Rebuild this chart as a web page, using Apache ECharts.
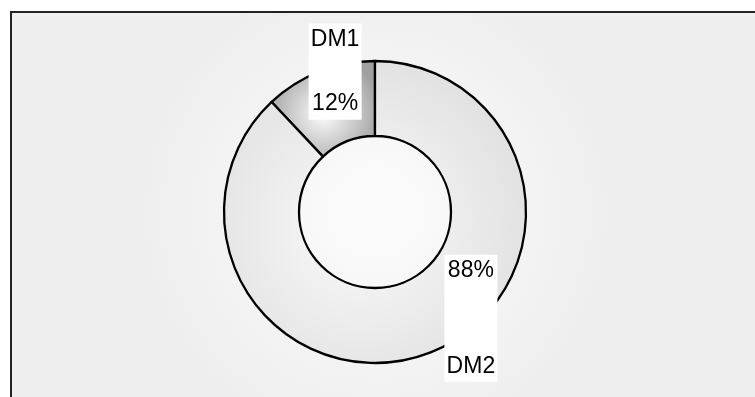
<!DOCTYPE html>
<html>
<head>
    <meta charset="utf-8">
    <title>DM donut</title>
    <script src="https://fastly.jsdelivr.net/npm/echarts@6/dist/echarts.min.js"></script>
</head>
<body style="margin:0;background:#fff">
    <div id="main" style="width: 755px;height:397px;"></div>
    <script type="text/javascript">
        var categories = ['DM1', 'DM2'];
        var values = [12, 88];

        var myChart = echarts.init(document.getElementById('main'));

        // per-slice look (fill + where the white label box sits)
        var sliceFill = [
            { type: 'radial', x: 0.5, y: 0.55, r: 0.6,
              colorStops: [{ offset: 0, color: '#fdfdfd' }, { offset: 1, color: '#a0a0a0' }] },
            { type: 'radial', x: 0.45, y: 0.55, r: 0.6,
              colorStops: [{ offset: 0, color: '#fafafa' }, { offset: 1, color: '#e0e0e0' }] }
        ];
        var sliceLabel = [
            { formatter: '{b}\n\n\n{d}%', lineHeight: 21.3, padding: [5, 1, 6, 1], offset: [3, -32] },
            { formatter: '{d}%\n\n\n\n{b}', lineHeight: 24, padding: [4, 1, 3, 1], offset: [53, -2] }
        ];

        var data = categories.map(function (name, i) {
            return {
                name: name,
                value: values[i],
                itemStyle: { color: sliceFill[i] },
                label: sliceLabel[i]
            };
        });

        option = {
            backgroundColor: '#ffffff',
            animation: false,
            graphic: [
                {
                    type: 'rect',
                    z: -10,
                    silent: true,
                    shape: { x: 11, y: 12, width: 760, height: 400 },
                    style: {
                        fill: {
                            type: 'radial', x: 0.48, y: 0.5, r: 0.6,
                            colorStops: [{ offset: 0, color: '#fcfcfc' }, { offset: 1, color: '#eeeeee' }]
                        },
                        stroke: '#222',
                        lineWidth: 2
                    }
                }
            ],
            series: [
                {
                    type: 'pie',
                    center: [375, 212],
                    radius: [76, 151],
                    startAngle: 90,
                    clockwise: false,
                    silent: true,
                    itemStyle: { borderColor: '#000', borderWidth: 2.3 },
                    label: {
                        show: true,
                        position: 'inside',
                        color: '#000',
                        fontFamily: 'Liberation Sans, Arial, sans-serif',
                        fontSize: 23,
                        width: 51,
                        align: 'left',
                        backgroundColor: '#ffffff',
                        textBorderWidth: 0
                    },
                    labelLine: { show: false },
                    emphasis: { disabled: true },
                    data: data
                }
            ]
        };

        myChart.setOption(option);
    </script>
</body>
</html>
